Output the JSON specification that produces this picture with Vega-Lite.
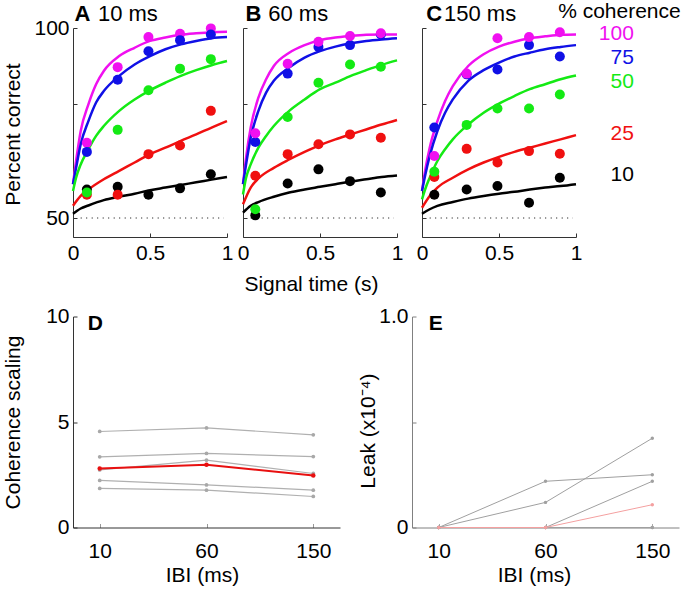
{
"$schema": "https://vega.github.io/schema/vega-lite/v6.json",
"padding": {"left": 2, "top": 1, "right": 0, "bottom": 0},
"autosize": {"type": "pad"},
"spacing": 11.5,
"config": {
  "view": {"stroke": null},
  "font": "Liberation Sans",
  "text": {"font": "Liberation Sans"},
  "axis": {"labelFont": "Liberation Sans", "titleFont": "Liberation Sans", "labelFontSize": 21, "titleFontSize": 21, "titleFontWeight": "normal", "labelColor": "#000", "titleColor": "#000", "grid": false, "domainColor": "#333", "tickColor": "#333", "tickSize": -4, "labelPadding": 8, "labelFlush": false, "labelOverlap": false}
},
"datasets": {
  "note": [{}],
  "fits": [
    {"p":"A","c":"100","t":0,"pc":58.9},{"p":"A","c":"100","t":0.02,"pc":65.0},{"p":"A","c":"100","t":0.05,"pc":72.9},{"p":"A","c":"100","t":0.1,"pc":79.9},{"p":"A","c":"100","t":0.15,"pc":85.2},{"p":"A","c":"100","t":0.2,"pc":88.7},{"p":"A","c":"100","t":0.3,"pc":92.6},{"p":"A","c":"100","t":0.4,"pc":94.8},{"p":"A","c":"100","t":0.5,"pc":96.6},{"p":"A","c":"100","t":0.6,"pc":97.5},{"p":"A","c":"100","t":0.7,"pc":98.2},{"p":"A","c":"100","t":0.8,"pc":98.6},{"p":"A","c":"100","t":0.9,"pc":98.9},{"p":"A","c":"100","t":1,"pc":99.0},
    {"p":"A","c":"75","t":0,"pc":58.9},{"p":"A","c":"75","t":0.02,"pc":63.2},{"p":"A","c":"75","t":0.05,"pc":69.4},{"p":"A","c":"75","t":0.1,"pc":75.5},{"p":"A","c":"75","t":0.15,"pc":80.4},{"p":"A","c":"75","t":0.2,"pc":83.4},{"p":"A","c":"75","t":0.3,"pc":87.4},{"p":"A","c":"75","t":0.4,"pc":90.4},{"p":"A","c":"75","t":0.5,"pc":92.6},{"p":"A","c":"75","t":0.6,"pc":94.4},{"p":"A","c":"75","t":0.7,"pc":95.7},{"p":"A","c":"75","t":0.8,"pc":96.6},{"p":"A","c":"75","t":0.9,"pc":97.3},{"p":"A","c":"75","t":1,"pc":97.6},
    {"p":"A","c":"50","t":0,"pc":57.1},{"p":"A","c":"50","t":0.02,"pc":60.6},{"p":"A","c":"50","t":0.05,"pc":64.1},{"p":"A","c":"50","t":0.1,"pc":68.1},{"p":"A","c":"50","t":0.15,"pc":71.6},{"p":"A","c":"50","t":0.2,"pc":74.2},{"p":"A","c":"50","t":0.3,"pc":78.2},{"p":"A","c":"50","t":0.4,"pc":81.2},{"p":"A","c":"50","t":0.5,"pc":83.6},{"p":"A","c":"50","t":0.6,"pc":85.6},{"p":"A","c":"50","t":0.7,"pc":87.4},{"p":"A","c":"50","t":0.8,"pc":88.9},{"p":"A","c":"50","t":0.9,"pc":90.2},{"p":"A","c":"50","t":1,"pc":91.3},
    {"p":"A","c":"25","t":0,"pc":53.2},{"p":"A","c":"25","t":0.05,"pc":55.8},{"p":"A","c":"25","t":0.1,"pc":57.5},{"p":"A","c":"25","t":0.2,"pc":60.2},{"p":"A","c":"25","t":0.3,"pc":62.4},{"p":"A","c":"25","t":0.4,"pc":64.6},{"p":"A","c":"25","t":0.5,"pc":66.8},{"p":"A","c":"25","t":0.6,"pc":68.5},{"p":"A","c":"25","t":0.7,"pc":70.3},{"p":"A","c":"25","t":0.8,"pc":72.0},{"p":"A","c":"25","t":0.9,"pc":73.8},{"p":"A","c":"25","t":1,"pc":75.5},
    {"p":"A","c":"10","t":0,"pc":51.1},{"p":"A","c":"10","t":0.05,"pc":52.5},{"p":"A","c":"10","t":0.1,"pc":53.3},{"p":"A","c":"10","t":0.2,"pc":54.7},{"p":"A","c":"10","t":0.3,"pc":55.6},{"p":"A","c":"10","t":0.4,"pc":56.4},{"p":"A","c":"10","t":0.5,"pc":57.3},{"p":"A","c":"10","t":0.6,"pc":58.0},{"p":"A","c":"10","t":0.7,"pc":58.7},{"p":"A","c":"10","t":0.8,"pc":59.4},{"p":"A","c":"10","t":0.9,"pc":60.1},{"p":"A","c":"10","t":1,"pc":60.8},
    {"p":"B","c":"100","t":0,"pc":58.9},{"p":"B","c":"100","t":0.02,"pc":65.9},{"p":"B","c":"100","t":0.05,"pc":73.8},{"p":"B","c":"100","t":0.1,"pc":81.7},{"p":"B","c":"100","t":0.15,"pc":86.5},{"p":"B","c":"100","t":0.2,"pc":90.0},{"p":"B","c":"100","t":0.3,"pc":93.5},{"p":"B","c":"100","t":0.4,"pc":95.5},{"p":"B","c":"100","t":0.5,"pc":96.8},{"p":"B","c":"100","t":0.6,"pc":97.5},{"p":"B","c":"100","t":0.7,"pc":97.9},{"p":"B","c":"100","t":0.8,"pc":98.2},{"p":"B","c":"100","t":0.9,"pc":98.3},{"p":"B","c":"100","t":1,"pc":98.3},
    {"p":"B","c":"75","t":0,"pc":58.9},{"p":"B","c":"75","t":0.02,"pc":64.1},{"p":"B","c":"75","t":0.05,"pc":71.1},{"p":"B","c":"75","t":0.1,"pc":78.2},{"p":"B","c":"75","t":0.15,"pc":83.0},{"p":"B","c":"75","t":0.2,"pc":86.1},{"p":"B","c":"75","t":0.3,"pc":89.6},{"p":"B","c":"75","t":0.4,"pc":92.2},{"p":"B","c":"75","t":0.5,"pc":93.9},{"p":"B","c":"75","t":0.6,"pc":95.1},{"p":"B","c":"75","t":0.7,"pc":96.0},{"p":"B","c":"75","t":0.8,"pc":96.6},{"p":"B","c":"75","t":0.9,"pc":97.0},{"p":"B","c":"75","t":1,"pc":97.3},
    {"p":"B","c":"50","t":0,"pc":56.2},{"p":"B","c":"50","t":0.02,"pc":60.6},{"p":"B","c":"50","t":0.05,"pc":64.1},{"p":"B","c":"50","t":0.1,"pc":68.5},{"p":"B","c":"50","t":0.15,"pc":71.6},{"p":"B","c":"50","t":0.2,"pc":74.2},{"p":"B","c":"50","t":0.3,"pc":78.2},{"p":"B","c":"50","t":0.4,"pc":81.2},{"p":"B","c":"50","t":0.5,"pc":83.9},{"p":"B","c":"50","t":0.6,"pc":85.6},{"p":"B","c":"50","t":0.7,"pc":87.4},{"p":"B","c":"50","t":0.8,"pc":88.9},{"p":"B","c":"50","t":0.9,"pc":90.3},{"p":"B","c":"50","t":1,"pc":91.5},
    {"p":"B","c":"25","t":0,"pc":53.6},{"p":"B","c":"25","t":0.05,"pc":58.0},{"p":"B","c":"25","t":0.1,"pc":60.4},{"p":"B","c":"25","t":0.2,"pc":63.2},{"p":"B","c":"25","t":0.3,"pc":65.4},{"p":"B","c":"25","t":0.4,"pc":67.4},{"p":"B","c":"25","t":0.5,"pc":69.2},{"p":"B","c":"25","t":0.6,"pc":70.7},{"p":"B","c":"25","t":0.7,"pc":72.0},{"p":"B","c":"25","t":0.8,"pc":73.3},{"p":"B","c":"25","t":0.9,"pc":74.6},{"p":"B","c":"25","t":1,"pc":75.8},
    {"p":"B","c":"10","t":0,"pc":51.4},{"p":"B","c":"10","t":0.05,"pc":53.2},{"p":"B","c":"10","t":0.1,"pc":54.2},{"p":"B","c":"10","t":0.2,"pc":55.6},{"p":"B","c":"10","t":0.3,"pc":56.7},{"p":"B","c":"10","t":0.4,"pc":57.5},{"p":"B","c":"10","t":0.5,"pc":58.2},{"p":"B","c":"10","t":0.6,"pc":58.9},{"p":"B","c":"10","t":0.7,"pc":59.6},{"p":"B","c":"10","t":0.8,"pc":60.2},{"p":"B","c":"10","t":0.9,"pc":60.8},{"p":"B","c":"10","t":1,"pc":61.2},
    {"p":"C","c":"100","t":0,"pc":57.1},{"p":"C","c":"100","t":0.02,"pc":62.4},{"p":"C","c":"100","t":0.05,"pc":68.5},{"p":"C","c":"100","t":0.1,"pc":75.5},{"p":"C","c":"100","t":0.15,"pc":80.8},{"p":"C","c":"100","t":0.2,"pc":84.7},{"p":"C","c":"100","t":0.3,"pc":90.0},{"p":"C","c":"100","t":0.4,"pc":93.1},{"p":"C","c":"100","t":0.5,"pc":95.1},{"p":"C","c":"100","t":0.6,"pc":96.4},{"p":"C","c":"100","t":0.7,"pc":97.3},{"p":"C","c":"100","t":0.8,"pc":97.8},{"p":"C","c":"100","t":0.9,"pc":98.2},{"p":"C","c":"100","t":1,"pc":98.3},
    {"p":"C","c":"75","t":0,"pc":57.1},{"p":"C","c":"75","t":0.02,"pc":61.1},{"p":"C","c":"75","t":0.05,"pc":66.3},{"p":"C","c":"75","t":0.1,"pc":72.9},{"p":"C","c":"75","t":0.15,"pc":77.7},{"p":"C","c":"75","t":0.2,"pc":81.2},{"p":"C","c":"75","t":0.3,"pc":86.1},{"p":"C","c":"75","t":0.4,"pc":88.9},{"p":"C","c":"75","t":0.5,"pc":90.9},{"p":"C","c":"75","t":0.6,"pc":92.5},{"p":"C","c":"75","t":0.7,"pc":93.5},{"p":"C","c":"75","t":0.8,"pc":94.4},{"p":"C","c":"75","t":0.9,"pc":95.0},{"p":"C","c":"75","t":1,"pc":95.5},
    {"p":"C","c":"50","t":0,"pc":54.9},{"p":"C","c":"50","t":0.02,"pc":57.5},{"p":"C","c":"50","t":0.05,"pc":60.6},{"p":"C","c":"50","t":0.1,"pc":65.0},{"p":"C","c":"50","t":0.15,"pc":68.1},{"p":"C","c":"50","t":0.2,"pc":70.7},{"p":"C","c":"50","t":0.3,"pc":74.6},{"p":"C","c":"50","t":0.4,"pc":77.7},{"p":"C","c":"50","t":0.5,"pc":80.1},{"p":"C","c":"50","t":0.6,"pc":82.1},{"p":"C","c":"50","t":0.7,"pc":83.9},{"p":"C","c":"50","t":0.8,"pc":85.2},{"p":"C","c":"50","t":0.9,"pc":86.5},{"p":"C","c":"50","t":1,"pc":87.5},
    {"p":"C","c":"25","t":0,"pc":52.7},{"p":"C","c":"25","t":0.05,"pc":55.8},{"p":"C","c":"25","t":0.1,"pc":58.0},{"p":"C","c":"25","t":0.2,"pc":60.6},{"p":"C","c":"25","t":0.3,"pc":62.8},{"p":"C","c":"25","t":0.4,"pc":64.6},{"p":"C","c":"25","t":0.5,"pc":66.1},{"p":"C","c":"25","t":0.6,"pc":67.4},{"p":"C","c":"25","t":0.7,"pc":68.5},{"p":"C","c":"25","t":0.8,"pc":69.6},{"p":"C","c":"25","t":0.9,"pc":70.7},{"p":"C","c":"25","t":1,"pc":71.8},
    {"p":"C","c":"10","t":0,"pc":51.1},{"p":"C","c":"10","t":0.05,"pc":52.3},{"p":"C","c":"10","t":0.1,"pc":53.2},{"p":"C","c":"10","t":0.2,"pc":54.2},{"p":"C","c":"10","t":0.3,"pc":55.1},{"p":"C","c":"10","t":0.4,"pc":55.8},{"p":"C","c":"10","t":0.5,"pc":56.4},{"p":"C","c":"10","t":0.6,"pc":56.9},{"p":"C","c":"10","t":0.7,"pc":57.5},{"p":"C","c":"10","t":0.8,"pc":58.0},{"p":"C","c":"10","t":0.9,"pc":58.4},{"p":"C","c":"10","t":1,"pc":58.9}
  ],
  "dots": [
    {"p":"A","c":"10","t":0.09,"pc":57.5},{"p":"A","c":"10","t":0.29,"pc":58.2},{"p":"A","c":"10","t":0.49,"pc":56.1},{"p":"A","c":"10","t":0.695,"pc":57.8},{"p":"A","c":"10","t":0.895,"pc":61.5},
    {"p":"A","c":"25","t":0.09,"pc":56.1},{"p":"A","c":"25","t":0.29,"pc":56.1},{"p":"A","c":"25","t":0.49,"pc":66.8},{"p":"A","c":"25","t":0.695,"pc":69.1},{"p":"A","c":"25","t":0.895,"pc":78.2},
    {"p":"A","c":"50","t":0.09,"pc":56.7},{"p":"A","c":"50","t":0.29,"pc":73.2},{"p":"A","c":"50","t":0.49,"pc":83.6},{"p":"A","c":"50","t":0.695,"pc":89.3},{"p":"A","c":"50","t":0.895,"pc":91.8},
    {"p":"A","c":"100","t":0.09,"pc":69.8},{"p":"A","c":"100","t":0.29,"pc":89.7},{"p":"A","c":"100","t":0.49,"pc":97.6},{"p":"A","c":"100","t":0.695,"pc":98.5},{"p":"A","c":"100","t":0.895,"pc":99.9},
    {"p":"A","c":"75","t":0.09,"pc":67.4},{"p":"A","c":"75","t":0.29,"pc":86.4},{"p":"A","c":"75","t":0.49,"pc":93.9},{"p":"A","c":"75","t":0.695,"pc":96.8},{"p":"A","c":"75","t":0.895,"pc":98.3},
    {"p":"B","c":"10","t":0.08,"pc":50.7},{"p":"B","c":"10","t":0.29,"pc":59.1},{"p":"B","c":"10","t":0.49,"pc":62.8},{"p":"B","c":"10","t":0.695,"pc":59.7},{"p":"B","c":"10","t":0.895,"pc":56.7},
    {"p":"B","c":"25","t":0.08,"pc":61.1},{"p":"B","c":"25","t":0.29,"pc":66.8},{"p":"B","c":"25","t":0.49,"pc":69.4},{"p":"B","c":"25","t":0.695,"pc":72.0},{"p":"B","c":"25","t":0.895,"pc":71.1},
    {"p":"B","c":"50","t":0.08,"pc":52.3},{"p":"B","c":"50","t":0.29,"pc":76.6},{"p":"B","c":"50","t":0.49,"pc":85.6},{"p":"B","c":"50","t":0.695,"pc":90.4},{"p":"B","c":"50","t":0.895,"pc":89.8},
    {"p":"B","c":"75","t":0.08,"pc":70.0},{"p":"B","c":"75","t":0.29,"pc":88.0},{"p":"B","c":"75","t":0.49,"pc":95.0},{"p":"B","c":"75","t":0.695,"pc":95.5},{"p":"B","c":"75","t":0.895,"pc":98.3},
    {"p":"B","c":"100","t":0.08,"pc":72.3},{"p":"B","c":"100","t":0.29,"pc":90.6},{"p":"B","c":"100","t":0.49,"pc":96.4},{"p":"B","c":"100","t":0.695,"pc":97.9},{"p":"B","c":"100","t":0.895,"pc":98.6},
    {"p":"C","c":"10","t":0.08,"pc":56.1},{"p":"C","c":"10","t":0.29,"pc":57.5},{"p":"C","c":"10","t":0.49,"pc":58.4},{"p":"C","c":"10","t":0.695,"pc":54.0},{"p":"C","c":"10","t":0.895,"pc":60.6},
    {"p":"C","c":"25","t":0.08,"pc":60.8},{"p":"C","c":"25","t":0.29,"pc":68.2},{"p":"C","c":"25","t":0.49,"pc":64.6},{"p":"C","c":"25","t":0.695,"pc":67.6},{"p":"C","c":"25","t":0.895,"pc":66.9},
    {"p":"C","c":"50","t":0.08,"pc":62.2},{"p":"C","c":"50","t":0.29,"pc":74.5},{"p":"C","c":"50","t":0.49,"pc":78.8},{"p":"C","c":"50","t":0.695,"pc":78.8},{"p":"C","c":"50","t":0.895,"pc":82.5},
    {"p":"C","c":"75","t":0.08,"pc":73.8},{"p":"C","c":"75","t":0.29,"pc":87.8},{"p":"C","c":"75","t":0.49,"pc":89.1},{"p":"C","c":"75","t":0.695,"pc":95.5},{"p":"C","c":"75","t":0.895,"pc":92.5},
    {"p":"C","c":"100","t":0.08,"pc":66.3},{"p":"C","c":"100","t":0.29,"pc":88.0},{"p":"C","c":"100","t":0.49,"pc":97.3},{"p":"C","c":"100","t":0.695,"pc":97.6},{"p":"C","c":"100","t":0.895,"pc":98.9}
  ],
  "cohlabels": [
    {"c":"100","pc":98.4},{"c":"75","pc":92.0},{"c":"50","pc":85.9},{"c":"25","pc":72.1},{"c":"10","pc":61.3}
  ],
  "scaling": [
    {"s":"s1","ibi":"10","v":4.55},{"s":"s1","ibi":"60","v":4.72},{"s":"s1","ibi":"150","v":4.39},
    {"s":"s2","ibi":"10","v":3.35},{"s":"s2","ibi":"60","v":3.51},{"s":"s2","ibi":"150","v":3.36},
    {"s":"s3","ibi":"10","v":2.73},{"s":"s3","ibi":"60","v":3.19},{"s":"s3","ibi":"150","v":2.56},
    {"s":"s4","ibi":"10","v":2.23},{"s":"s4","ibi":"60","v":2.02},{"s":"s4","ibi":"150","v":1.77},
    {"s":"s5","ibi":"10","v":1.85},{"s":"s5","ibi":"60","v":1.77},{"s":"s5","ibi":"150","v":1.47},
    {"s":"mean","ibi":"10","v":2.80},{"s":"mean","ibi":"60","v":2.97},{"s":"mean","ibi":"150","v":2.46}
  ],
  "leak": [
    {"s":"s1","ibi":"10","v":0},{"s":"s1","ibi":"60","v":0.119},{"s":"s1","ibi":"150","v":0.423},
    {"s":"s2","ibi":"10","v":0},{"s":"s2","ibi":"60","v":0.219},{"s":"s2","ibi":"150","v":0.25},
    {"s":"s3","ibi":"10","v":0},{"s":"s3","ibi":"60","v":0},{"s":"s3","ibi":"150","v":0.219},
    {"s":"s4","ibi":"10","v":0},{"s":"s4","ibi":"60","v":0},{"s":"s4","ibi":"150","v":0},
    {"s":"s5","ibi":"10","v":0},{"s":"s5","ibi":"60","v":0},{"s":"s5","ibi":"150","v":0},
    {"s":"mean","ibi":"10","v":0},{"s":"mean","ibi":"60","v":0},{"s":"mean","ibi":"150","v":0.108}
  ]
},
"vconcat": [
  {
    "spacing": 13,
    "hconcat": [
      {
        "spacing": 4,
        "hconcat": [
          {
            "width": 154, "height": 209,
            "layer": [
              {"data": {"name": "note"}, "mark": {"type": "rule", "strokeDash": [1, 4.5], "color": "#000", "strokeWidth": 1},
               "encoding": {"x": {"datum": 0.05, "type": "quantitative", "scale": {"domain": [0, 1], "nice": false}, "axis": {"values": [0, 0.5, 1], "labelExpr": "'' + datum.value", "title": null, "labelPadding": 9}}, "x2": {"datum": 0.98}, "y": {"datum": 50, "type": "quantitative", "scale": {"domain": [45, 100], "nice": false, "zero": false}, "axis": {"values": [50, 80, 100], "labelExpr": "datum.value == 80 ? '' : '' + datum.value", "title": "Percent correct", "titlePadding": 10, "titleY": 106}}}},
              {"data": {"name": "fits"}, "transform": [{"filter": "datum.p == 'A'"}],
               "mark": {"type": "line", "strokeWidth": 2.5, "interpolate": "monotone"},
               "encoding": {"x": {"field": "t", "type": "quantitative"}, "y": {"field": "pc", "type": "quantitative"},
                 "color": {"field": "c", "type": "nominal", "scale": {"domain": ["100", "75", "50", "25", "10"], "range": ["#f010f0", "#1010e6", "#14ea14", "#f01010", "#000000"]}, "legend": null}}},
              {"data": {"name": "dots"}, "transform": [{"filter": "datum.p == 'A'"}],
               "mark": {"type": "circle", "size": 100, "opacity": 1},
               "encoding": {"x": {"field": "t", "type": "quantitative"}, "y": {"field": "pc", "type": "quantitative"}, "color": {"field": "c", "type": "nominal", "legend": null}}},
              {"data": {"name": "note"}, "mark": {"type": "text", "text": "A", "fontWeight": "bold", "fontSize": 22, "align": "left", "baseline": "alphabetic", "dy": -7},
               "encoding": {"x": {"datum": 0.01}, "y": {"datum": 100}}},
              {"data": {"name": "note"}, "mark": {"type": "text", "text": "10 ms", "fontSize": 22, "align": "left", "baseline": "alphabetic", "dy": -7},
               "encoding": {"x": {"datum": 0.162}, "y": {"datum": 100}}}
            ]
          },
          {
            "width": 154, "height": 209,
            "layer": [
              {"data": {"name": "note"}, "mark": {"type": "rule", "strokeDash": [1, 4.5], "color": "#000", "strokeWidth": 1},
               "encoding": {"x": {"datum": 0.05, "type": "quantitative", "scale": {"domain": [0, 1], "nice": false}, "axis": {"values": [0, 0.5, 1], "labelExpr": "'' + datum.value", "title": "Signal time (s)", "labelPadding": 9, "titlePadding": 10, "titleX": 68}}, "x2": {"datum": 0.98}, "y": {"datum": 50, "type": "quantitative", "scale": {"domain": [45, 100], "nice": false, "zero": false}, "axis": {"values": [50, 80, 100], "labels": false, "title": null}}}},
              {"data": {"name": "fits"}, "transform": [{"filter": "datum.p == 'B'"}],
               "mark": {"type": "line", "strokeWidth": 2.5, "interpolate": "monotone"},
               "encoding": {"x": {"field": "t", "type": "quantitative"}, "y": {"field": "pc", "type": "quantitative"},
                 "color": {"field": "c", "type": "nominal", "scale": {"domain": ["100", "75", "50", "25", "10"], "range": ["#f010f0", "#1010e6", "#14ea14", "#f01010", "#000000"]}, "legend": null}}},
              {"data": {"name": "dots"}, "transform": [{"filter": "datum.p == 'B'"}],
               "mark": {"type": "circle", "size": 100, "opacity": 1},
               "encoding": {"x": {"field": "t", "type": "quantitative"}, "y": {"field": "pc", "type": "quantitative"}, "color": {"field": "c", "type": "nominal", "legend": null}}},
              {"data": {"name": "note"}, "mark": {"type": "text", "text": "B", "fontWeight": "bold", "fontSize": 22, "align": "left", "baseline": "alphabetic", "dy": -7},
               "encoding": {"x": {"datum": 0.017}, "y": {"datum": 100}}},
              {"data": {"name": "note"}, "mark": {"type": "text", "text": "60 ms", "fontSize": 22, "align": "left", "baseline": "alphabetic", "dy": -7},
               "encoding": {"x": {"datum": 0.164}, "y": {"datum": 100}}}
            ]
          }
        ]
      },
      {
        "width": 154, "height": 209,
        "layer": [
          {"data": {"name": "note"}, "mark": {"type": "rule", "strokeDash": [1, 4.5], "color": "#000", "strokeWidth": 1},
           "encoding": {"x": {"datum": 0.05, "type": "quantitative", "scale": {"domain": [0, 1], "nice": false}, "axis": {"values": [0, 0.5, 1], "labelExpr": "'' + datum.value", "title": null, "labelPadding": 9}}, "x2": {"datum": 0.98}, "y": {"datum": 50, "type": "quantitative", "scale": {"domain": [45, 100], "nice": false, "zero": false}, "axis": {"values": [50, 80, 100], "labels": false, "title": null}}}},
          {"data": {"name": "fits"}, "transform": [{"filter": "datum.p == 'C'"}],
           "mark": {"type": "line", "strokeWidth": 2.5, "interpolate": "monotone"},
           "encoding": {"x": {"field": "t", "type": "quantitative"}, "y": {"field": "pc", "type": "quantitative"},
             "color": {"field": "c", "type": "nominal", "scale": {"domain": ["100", "75", "50", "25", "10"], "range": ["#f010f0", "#1010e6", "#14ea14", "#f01010", "#000000"]}, "legend": null}}},
          {"data": {"name": "dots"}, "transform": [{"filter": "datum.p == 'C'"}],
           "mark": {"type": "circle", "size": 100, "opacity": 1},
           "encoding": {"x": {"field": "t", "type": "quantitative"}, "y": {"field": "pc", "type": "quantitative"}, "color": {"field": "c", "type": "nominal", "legend": null}}},
          {"data": {"name": "cohlabels"},
           "mark": {"type": "text", "fontSize": 21, "align": "right", "baseline": "middle"},
           "encoding": {"x": {"datum": 1.376}, "y": {"field": "pc", "type": "quantitative"}, "text": {"field": "c"}, "color": {"field": "c", "type": "nominal", "legend": null}}},
          {"data": {"name": "note"}, "mark": {"type": "text", "text": "% coherence", "fontSize": 21, "align": "right", "baseline": "alphabetic", "dy": -10},
           "encoding": {"x": {"datum": 1.68}, "y": {"datum": 100}}},
          {"data": {"name": "note"}, "mark": {"type": "text", "text": "C", "fontWeight": "bold", "fontSize": 22, "align": "left", "baseline": "alphabetic", "dy": -7},
           "encoding": {"x": {"datum": 0.028}, "y": {"datum": 100}}},
          {"data": {"name": "note"}, "mark": {"type": "text", "text": "150 ms", "fontSize": 22, "align": "left", "baseline": "alphabetic", "dy": -7},
           "encoding": {"x": {"datum": 0.143}, "y": {"datum": 100}}}
        ]
      }
    ]
  },
  {
    "spacing": 17,
    "hconcat": [
      {
        "width": 267, "height": 211,
        "layer": [
          {"data": {"name": "scaling"}, "transform": [{"filter": "datum.s != 'mean'"}],
           "mark": {"type": "line", "color": "#b0b0b0", "strokeWidth": 1.2, "point": {"filled": true, "size": 14, "color": "#a8a8a8"}},
           "encoding": {
             "x": {"field": "ibi", "type": "ordinal", "sort": ["10", "60", "150"], "scale": {"type": "point", "padding": 0.25}, "axis": {"title": "IBI (ms)", "labelAngle": 0, "labelPadding": 17, "titlePadding": 3, "titleX": 129, "tickColor": "#999", "domainColor": "#333"}},
             "y": {"field": "v", "type": "quantitative", "scale": {"domain": [0, 10], "nice": false}, "axis": {"values": [0, 5, 10], "title": "Coherence scaling", "titlePadding": 22}},
             "detail": {"field": "s"}}},
          {"data": {"name": "scaling"}, "transform": [{"filter": "datum.s == 'mean'"}],
           "mark": {"type": "line", "color": "#e81010", "strokeWidth": 2, "point": {"filled": true, "size": 20, "color": "#e81010"}},
           "encoding": {"x": {"field": "ibi", "type": "ordinal", "sort": ["10", "60", "150"]}, "y": {"field": "v", "type": "quantitative"}}},
          {"data": {"name": "note"}, "mark": {"type": "text", "text": "D", "fontWeight": "bold", "fontSize": 21, "align": "left", "baseline": "alphabetic", "dx": -12, "dy": 13},
           "encoding": {"x": {"datum": "10", "type": "ordinal"}, "y": {"datum": 10, "type": "quantitative"}}}
        ]
      },
      {
        "width": 267, "height": 211,
        "layer": [
          {"data": {"name": "leak"}, "transform": [{"filter": "datum.s != 'mean'"}],
           "mark": {"type": "line", "color": "#a0a0a0", "strokeWidth": 1, "point": {"filled": true, "size": 12, "color": "#a0a0a0"}},
           "encoding": {
             "x": {"field": "ibi", "type": "ordinal", "sort": ["10", "60", "150"], "scale": {"type": "point", "padding": 0.25}, "axis": {"title": "IBI (ms)", "labelAngle": 0, "labelPadding": 17, "titlePadding": 3, "titleX": 122, "tickColor": "#aaa", "domainColor": "#808080"}},
             "y": {"field": "v", "type": "quantitative", "scale": {"domain": [0, 1], "nice": false}, "axis": {"values": [0, 0.5, 1], "labelExpr": "datum.value == 1 ? '1.0' : (datum.value == 0 ? '0' : '')", "title": "Leak (x10⁻⁴)", "titlePadding": 0, "titleY": 114, "domainColor": "#808080", "tickColor": "#808080"}},
             "detail": {"field": "s"}}},
          {"data": {"name": "leak"}, "transform": [{"filter": "datum.s == 'mean'"}],
           "mark": {"type": "line", "color": "#f4a0a0", "strokeWidth": 1, "point": {"filled": true, "size": 12, "color": "#f4a0a0"}},
           "encoding": {"x": {"field": "ibi", "type": "ordinal", "sort": ["10", "60", "150"]}, "y": {"field": "v", "type": "quantitative"}}},
          {"data": {"name": "note"}, "mark": {"type": "text", "text": "E", "fontWeight": "bold", "fontSize": 21, "align": "left", "baseline": "alphabetic", "dx": -10, "dy": 13.7},
           "encoding": {"x": {"datum": "10", "type": "ordinal"}, "y": {"datum": 1, "type": "quantitative"}}}
        ]
      }
    ]
  }
]
}
